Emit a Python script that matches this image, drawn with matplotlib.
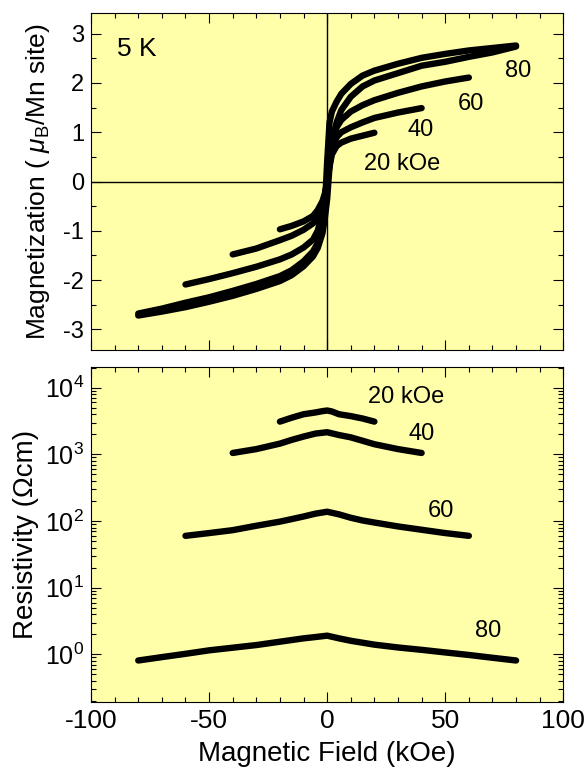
import numpy as np
import matplotlib
matplotlib.use('Agg')
import matplotlib.pyplot as plt
from matplotlib.ticker import MultipleLocator, LogLocator, NullFormatter, LogFormatterMathtext

plt.rcParams['font.family'] = ['Liberation Sans', 'DejaVu Sans']
plt.rcParams['mathtext.fontset'] = 'custom'
plt.rcParams['mathtext.rm'] = 'Liberation Sans'
plt.rcParams['mathtext.it'] = 'Liberation Sans:italic'
plt.rcParams['axes.unicode_minus'] = False

# --- magnetization loops (kOe, muB/Mn) ---
h20 = [-20, -15, -10, -6, -4, -2, -1, 0, 1, 2, 4, 6, 10, 15, 20]
m20 = [-0.97, -0.9, -0.81, -0.7, -0.58, -0.4, -0.25, 0.0, 0.3, 0.55, 0.72, 0.79, 0.87, 0.93, 0.99]

h40 = [-40, -30, -20, -15, -10, -6, -4, -2, -1, 0, 1, 2, 4, 6, 10, 15, 20, 30, 40]
m40 = [-1.48, -1.36, -1.19, -1.1, -0.98, -0.85, -0.72, -0.5, -0.3, 0.0, 0.35, 0.65, 0.9, 1.0,
       1.1, 1.2, 1.29, 1.4, 1.49]

h60 = [-60, -50, -40, -30, -20, -15, -10, -6, -4, -2, -1, 0, 1, 2, 4, 6, 10, 15, 20, 30, 40, 50, 60]
m60 = [-2.09, -1.98, -1.86, -1.73, -1.58, -1.48, -1.34, -1.18, -1.0, -0.65, -0.35, 0.0, 0.4, 0.75,
       1.1, 1.25, 1.42, 1.55, 1.65, 1.8, 1.93, 2.03, 2.11]

h80 = [-80, -70, -60, -50, -40, -30, -20, -15, -10, -6, -4, -2, -1, 0, 1, 2, 4, 6, 10, 15, 20,
       30, 40, 50, 60, 70, 80]
m80_down = [-2.68, -2.58, -2.46, -2.35, -2.22, -2.08, -1.92, -1.8, -1.62, -1.42, -1.25, -0.9,
            -0.55, 0.4, 1.2, 1.42, 1.62, 1.78, 1.98, 2.15, 2.25, 2.39, 2.51, 2.59, 2.66, 2.71, 2.76]
m80_up = [-2.72, -2.64, -2.55, -2.44, -2.32, -2.18, -2.02, -1.9, -1.72, -1.52, -1.35, -1.05,
          -0.75, -0.35, 0.3, 0.8, 1.2, 1.45, 1.72, 1.93, 2.05, 2.2, 2.35, 2.43, 2.53, 2.62, 2.74]

# --- resistivity (Ohm cm) ---
rh20 = [-20, -15, -10, -5, -2, 0, 2, 5, 10, 15, 20]
r20 = [3100, 3550, 4000, 4250, 4450, 4550, 4400, 4000, 3750, 3450, 3100]

rh40 = [-40, -30, -20, -15, -10, -5, 0, 5, 10, 15, 20, 30, 40]
r40 = [1050, 1200, 1450, 1650, 1850, 2050, 2150, 1950, 1800, 1600, 1420, 1200, 1050]

rh60 = [-60, -50, -40, -30, -20, -15, -10, -5, 0, 5, 10, 15, 20, 30, 40, 50, 60]
r60 = [60, 66, 73, 85, 98, 107, 117, 129, 138, 126, 112, 102, 95, 83, 74, 66, 60]

rh80 = [-80, -70, -60, -50, -40, -30, -20, -10, -5, 0, 5, 10, 20, 30, 40, 50, 60, 70, 80]
r80 = [0.81, 0.91, 1.02, 1.15, 1.26, 1.38, 1.55, 1.74, 1.82, 1.91, 1.74, 1.6, 1.4, 1.27,
       1.17, 1.07, 0.98, 0.89, 0.81]

bg = '#ffffaa'
lw = 4.6

fig = plt.figure(figsize=(5.88, 7.67), dpi=100)
ax1 = fig.add_axes([0.1548, 0.5443, 0.8032, 0.4381])
ax2 = fig.add_axes([0.1548, 0.0851, 0.8032, 0.4368])

def band(ax, x, y):
    ax.plot(x, y, color='black', lw=lw, solid_capstyle='round', solid_joinstyle='round')

for ax in (ax1, ax2):
    ax.set_facecolor(bg)
    ax.set_xlim(-100, 100)
    ax.xaxis.set_major_locator(MultipleLocator(50))
    ax.xaxis.set_minor_locator(MultipleLocator(10))
    ax.tick_params(which='both', direction='in', top=True, right=True, pad=5)
    ax.tick_params(which='major', length=7, width=0.8)
    ax.tick_params(which='minor', length=3.6, width=0.8)

# top panel
ax1.axhline(0, color='black', lw=1)
ax1.axvline(0, color='black', lw=1)
band(ax1, h20, m20)
band(ax1, h40, m40)
band(ax1, h60, m60)
band(ax1, h80, m80_down)
band(ax1, h80, m80_up)
ax1.set_ylim(-3.41, 3.41)
ax1.yaxis.set_major_locator(MultipleLocator(1))
ax1.yaxis.set_minor_locator(MultipleLocator(0.5))
ax1.tick_params(labelbottom=False, labelsize=17)
ax1.set_ylabel(r'Magnetization ( $\mathit{\mu}_{\mathrm{B}}$/Mn site)', fontsize=19, labelpad=8)
ax1.text(-89, 2.68, '5 K', fontsize=19, ha='left', va='center')
ax1.text(81, 2.25, '80', fontsize=17, ha='center', va='center')
ax1.text(60.8, 1.57, '60', fontsize=17, ha='center', va='center')
ax1.text(39.6, 1.05, '40', fontsize=17, ha='center', va='center')
ax1.text(31.6, 0.35, '20 kOe', fontsize=17, ha='center', va='center')

# bottom panel
band(ax2, rh20, r20)
band(ax2, rh40, r40)
band(ax2, rh60, r60)
band(ax2, rh80, r80)
ax2.set_yscale('log')
ax2.set_ylim(10 ** -0.71, 10 ** 4.315)
ax2.yaxis.set_major_locator(LogLocator(base=10, numticks=10))
ax2.yaxis.set_minor_locator(LogLocator(base=10, subs=np.arange(2, 10), numticks=20))
ax2.yaxis.set_major_formatter(LogFormatterMathtext())
ax2.yaxis.set_minor_formatter(NullFormatter())
ax2.set_xticks([-100, -50, 0, 50, 100])
ax2.tick_params(axis='y', labelsize=18)
ax2.tick_params(axis='x', labelsize=19)
ax2.set_ylabel('Resistivity (Ωcm)', fontsize=20, labelpad=4)
ax2.set_xlabel('Magnetic Field (kOe)', fontsize=20, labelpad=6)
ax2.text(33.3, 7330, '20 kOe', fontsize=17, ha='center', va='center')
ax2.text(39.8, 2030, '40', fontsize=17, ha='center', va='center')
ax2.text(48.1, 142, '60', fontsize=17, ha='center', va='center')
ax2.text(68.1, 2.22, '80', fontsize=17, ha='center', va='center')

fig.savefig('out.png', dpi=100)
